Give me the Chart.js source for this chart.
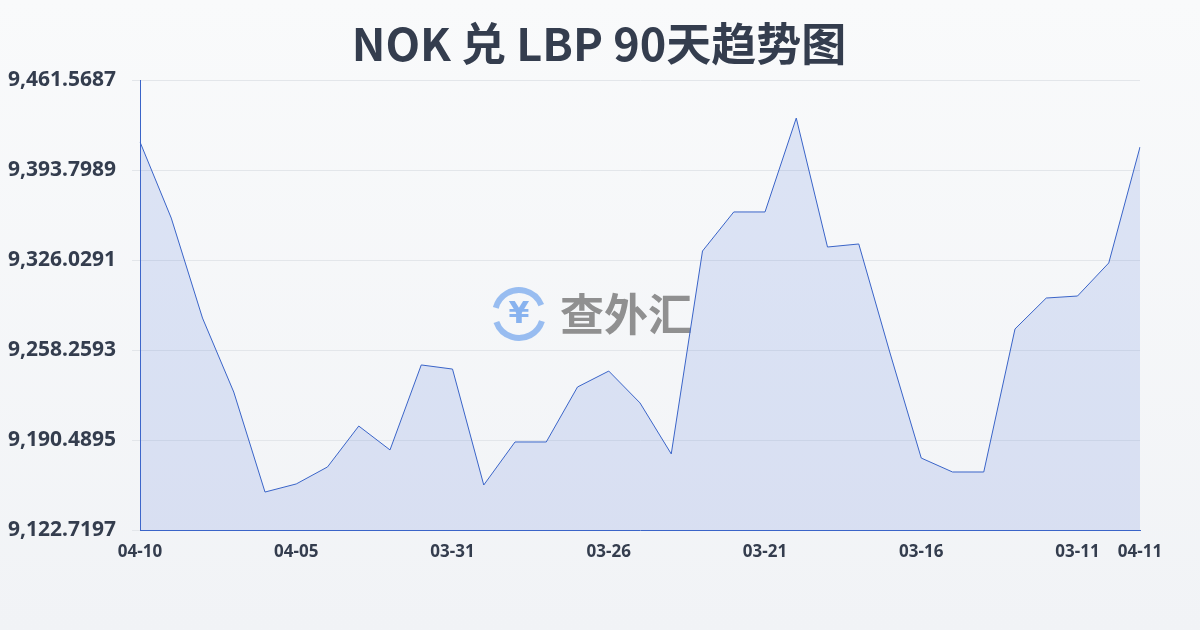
<!DOCTYPE html>
<html><head><meta charset="utf-8">
<script src="https://cdn.jsdelivr.net/npm/chart.js@4/dist/chart.umd.min.js"></script>
<style>html,body{margin:0;padding:0;}body{width:1200px;height:630px;background:linear-gradient(#f9fafb,#f1f3f6);}#w{width:1200px;height:630px;}</style>
</head><body><div id="w"><canvas id="c" width="1200" height="630"></canvas></div>
<script>
const dates = ["04-10","04-09","04-08","04-07","04-06","04-05","04-04","04-03","04-02","04-01","03-31","03-30","03-29","03-28","03-27","03-26","03-25","03-24","03-23","03-22","03-21","03-20","03-19","03-18","03-17","03-16","03-15","03-14","03-13","03-12","03-11","03-10","04-11"];
const rates = [9414.9,9357.6,9282.3,9226.6,9151.3,9157.4,9170.2,9201.0,9183.0,9247.0,9243.9,9156.6,9189.0,9189.0,9230.4,9242.4,9218.4,9180.0,9332.8,9362.2,9362.2,9432.9,9335.8,9338.1,9256.0,9176.9,9166.4,9166.4,9274.1,9297.4,9298.9,9323.8,9411.1];
const yMin = 9122.7197, yMax = 9461.5687, yStep = 67.7698;
const titleText = 'NOK 兑 LBP 90天趋势图';
const wm = {id:'wm',beforeDatasetsDraw(ch){const c=ch.ctx;c.save();
 c.strokeStyle='rgba(90,150,235,0.6)';c.lineWidth=6;c.beginPath();c.arc(519,314,24,0.3,2.8);c.stroke();c.beginPath();c.arc(519,314,24,3.4,5.9);c.stroke();
 c.fillStyle='rgba(90,150,235,0.7)';c.font='bold 30px "DejaVu Sans"';c.textAlign='center';c.textBaseline='middle';c.fillText('¥',519,315);
 c.fillStyle='rgba(110,110,110,0.75)';c.font='bold 44px "Noto Sans CJK SC"';c.textAlign='left';c.fillText('查外汇',560,314);
 c.fillStyle='#343d4e';c.font='bold 45px "Noto Sans CJK SC"';c.textAlign='center';c.fillText(titleText,599,44);
 c.restore();}};
new Chart(document.getElementById('c'),{type:'line',
 data:{labels:dates,datasets:[{data:rates,borderColor:'#3a64c8',borderWidth:1,backgroundColor:'rgba(80,120,220,0.16)',fill:'start',pointRadius:0,tension:0}]},
 options:{responsive:false,animation:false,layout:{padding:{right:60,top:80}},
  plugins:{legend:{display:false},tooltip:{enabled:false},title:{display:false}},
  scales:{
   x:{grid:{display:false},border:{color:'#3a64c8'},afterFit(s){s.height=100;},
      ticks:{autoSkip:false,maxRotation:0,color:'#343d4e',font:{size:17,weight:'bold',family:'"Noto Sans"'},padding:4,
      callback(v,i){return (i%5===0||i===dates.length-1)?dates[i]:'';}}},
   y:{min:yMin,max:yMax,afterFit(s){s.width=140;},border:{color:'#3a64c8'},grid:{color:'#e3e6ea'},
      afterBuildTicks(s){const t=[];for(let i=0;i<=5;i++)t.push({value:yMin+i*yStep});s.ticks=t;},
      ticks:{color:'#343d4e',font:{size:21,weight:'bold',family:'"Noto Sans"'},padding:16,
      callback(v){return v.toLocaleString('en-US',{minimumFractionDigits:4,maximumFractionDigits:4});}}}
  }},plugins:[wm]});
</script></body></html>
